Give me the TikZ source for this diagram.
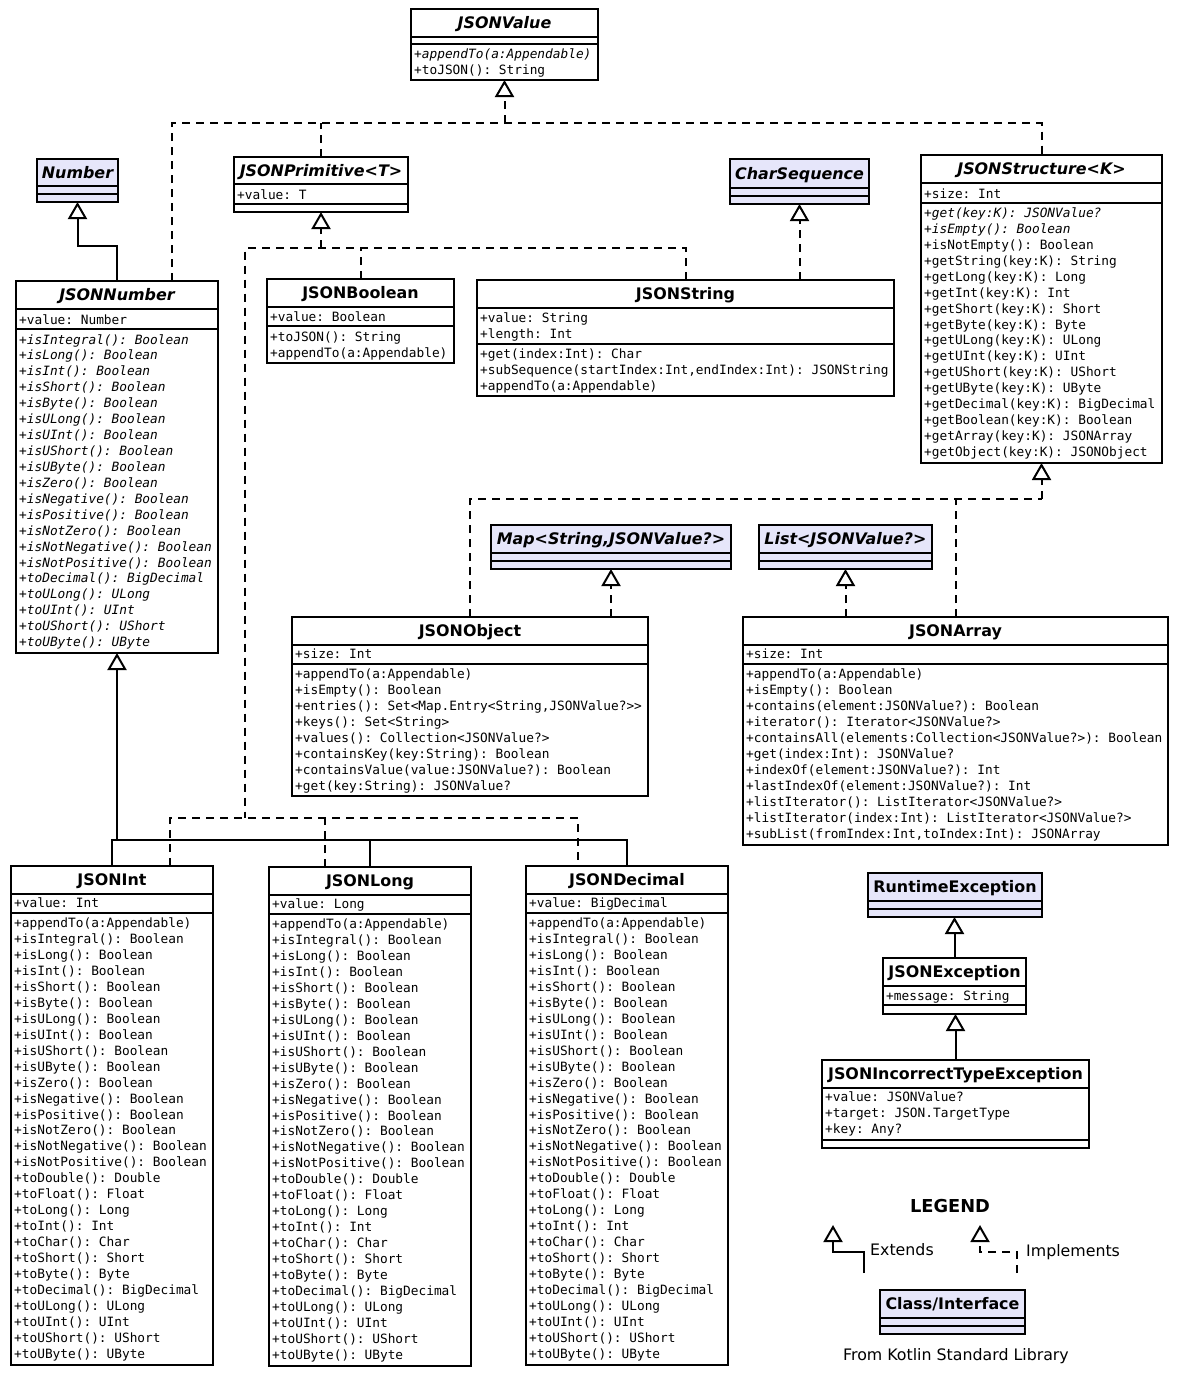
\documentclass[tikz,border=0pt]{standalone}
\usepackage{fontspec}
\setmainfont{DejaVu Sans}
\setmonofont{DejaVu Sans Mono}
\usetikzlibrary{arrows.meta}
\definecolor{libfill}{RGB}{230,230,250}

\newcommand{\clsTitleFont}{\fontsize{15.9}{18}\selectfont\bfseries}
\newcommand{\clsMemberFont}{\fontsize{12.8}{16}\selectfont\ttfamily}
\newcommand{\clsLabelFont}{\fontsize{15.8}{18}\selectfont}
\newcommand{\clsLegendFont}{\fontsize{17.8}{20}\selectfont\bfseries}

% #1 name, #2 style, #3 x1, #4 y1, #5 x2, #6 y2, #7 first separator, #8 second separator, #9 title
\newcommand{\classbox}[9]{%
  \node[#2, minimum width={#5-#3}, minimum height={#6-#4}, anchor=north west] (#1) at (#3,#4) {};
  \draw[sepline] (#3,#7) -- (#5,#7) (#3,#8) -- (#5,#8);
  \node[ttl] (#1-title) at ({(#3+#5)/2}, {(#4+#7)/2+5.8}) {#9};
}
% [#1 extra style], #2 name prefix, #3 x, #4 centre of first line, #5 line step, #6 lines
\newcommand{\memberlist}[6][]{%
  \foreach \txt [count=\k] in {#6} {
    \node[mem, #1] (#2-\k) at (#3, {#4+4.5+(\k-1)*#5}) {\txt};
  }
}

\begin{document}
\begin{tikzpicture}[x=1pt, y=-1pt,
  >={Triangle[open, length=17pt, width=19pt]},
  box/.style={draw, line width=2pt, fill=white, inner sep=0pt, outer sep=0pt},
  libbox/.style={box, fill=libfill},
  sepline/.style={line width=2pt},
  ttl/.style={font=\clsTitleFont, inner sep=0pt, anchor=base},
  mem/.style={font=\clsMemberFont, inner sep=0pt, anchor=base west},
  lbl/.style={font=\clsLabelFont, inner sep=0pt},
  ext/.style={line width=2pt},
  impl/.style={line width=2pt, dash pattern=on 8pt off 6pt}]

\fill[white] (0,0) rectangle (1181,1377);
\useasboundingbox (0,0) rectangle (1181,1377);

% ---------- classes and interfaces ----------
\classbox{jv}{box}{411}{9}{598}{80}{37}{44}{\itshape JSONValue}
\memberlist{jv}{414}{54}{16}{{\itshape +appendTo(a:Appendable)}, +toJSON(): String}

\classbox{num}{libbox}{37}{159}{118}{202}{186}{194}{\itshape Number}

\classbox{jp}{box}{234}{157}{408}{212}{184}{204}{\itshape JSONPrimitive<T>}
\memberlist{jpa}{237}{195}{16}{+value: T}

\classbox{cs}{libbox}{730}{159}{869}{204}{188}{196}{\itshape CharSequence}

\classbox{js}{box}{921}{155}{1162}{463}{183}{203}{\itshape JSONStructure<K>}
\memberlist{jsa}{924}{194}{16}{+size: Int}
\memberlist{jsm}{924}{213}{15.93}{{\itshape +get(key:K): JSONValue?}, {\itshape +isEmpty(): Boolean},
  +isNotEmpty(): Boolean, +getString(key:K): String, +getLong(key:K): Long, +getInt(key:K): Int,
  +getShort(key:K): Short, +getByte(key:K): Byte, +getULong(key:K): ULong, +getUInt(key:K): UInt,
  +getUShort(key:K): UShort, +getUByte(key:K): UByte, +getDecimal(key:K): BigDecimal,
  +getBoolean(key:K): Boolean, +getArray(key:K): JSONArray, +getObject(key:K): JSONObject}

\classbox{jn}{box}{16}{281}{218}{653}{309}{329}{\itshape JSONNumber}
\memberlist{jna}{19}{320}{16}{+value: Number}
\memberlist[font=\clsMemberFont\itshape]{jnm}{19}{339.5}{15.93}{+isIntegral(): Boolean, +isLong(): Boolean,
  +isInt(): Boolean, +isShort(): Boolean, +isByte(): Boolean, +isULong(): Boolean, +isUInt(): Boolean,
  +isUShort(): Boolean, +isUByte(): Boolean, +isZero(): Boolean, +isNegative(): Boolean,
  +isPositive(): Boolean, +isNotZero(): Boolean, +isNotNegative(): Boolean, +isNotPositive(): Boolean,
  +toDecimal(): BigDecimal, +toULong(): ULong, +toUInt(): UInt, +toUShort(): UShort, +toUByte(): UByte}

\classbox{jb}{box}{267}{279}{454}{363}{307}{326}{JSONBoolean}
\memberlist{jba}{270}{317}{16}{+value: Boolean}
\memberlist{jbm}{270}{337}{16}{+toJSON(): String, +appendTo(a:Appendable)}

\classbox{jstr}{box}{477}{280}{894}{396}{308}{344}{JSONString}
\memberlist{jstra}{480}{318}{16}{+value: String, +length: Int}
\memberlist{jstrm}{480}{354}{16}{+get(index:Int): Char, {+subSequence(startIndex:Int,endIndex:Int): JSONString},
  +appendTo(a:Appendable)}

\classbox{map}{libbox}{491}{525}{731}{569}{553}{561}{\itshape Map<String,JSONValue?>}
\classbox{list}{libbox}{759}{525}{932}{569}{553}{561}{\itshape List<JSONValue?>}

\classbox{jo}{box}{292}{617}{648}{796}{645}{664}{JSONObject}
\memberlist{joa}{295}{654}{16}{+size: Int}
\memberlist{jom}{295}{674}{16}{+appendTo(a:Appendable), +isEmpty(): Boolean,
  {+entries(): Set<Map.Entry<String,JSONValue?>>}, +keys(): Set<String>, +values(): Collection<JSONValue?>,
  +containsKey(key:String): Boolean, +containsValue(value:JSONValue?): Boolean, +get(key:String): JSONValue?}

\classbox{ja}{box}{743}{617}{1168}{845}{645}{664}{JSONArray}
\memberlist{jaa}{746}{654}{16}{+size: Int}
\memberlist{jam}{746}{674}{16}{+appendTo(a:Appendable), +isEmpty(): Boolean,
  +contains(element:JSONValue?): Boolean, +iterator(): Iterator<JSONValue?>,
  +containsAll(elements:Collection<JSONValue?>): Boolean, +get(index:Int): JSONValue?,
  +indexOf(element:JSONValue?): Int, +lastIndexOf(element:JSONValue?): Int,
  +listIterator(): ListIterator<JSONValue?>, +listIterator(index:Int): ListIterator<JSONValue?>,
  {+subList(fromIndex:Int,toIndex:Int): JSONArray}}

\classbox{ji}{box}{11}{866}{213}{1365}{894}{913}{JSONInt}
\memberlist{jia}{14}{903}{16}{+value: Int}
\memberlist{jim}{14}{923}{15.96}{+appendTo(a:Appendable), +isIntegral(): Boolean, +isLong(): Boolean,
  +isInt(): Boolean, +isShort(): Boolean, +isByte(): Boolean, +isULong(): Boolean, +isUInt(): Boolean,
  +isUShort(): Boolean, +isUByte(): Boolean, +isZero(): Boolean, +isNegative(): Boolean,
  +isPositive(): Boolean, +isNotZero(): Boolean, +isNotNegative(): Boolean, +isNotPositive(): Boolean,
  +toDouble(): Double, +toFloat(): Float, +toLong(): Long, +toInt(): Int, +toChar(): Char,
  +toShort(): Short, +toByte(): Byte, +toDecimal(): BigDecimal, +toULong(): ULong, +toUInt(): UInt,
  +toUShort(): UShort, +toUByte(): UByte}

\classbox{jl}{box}{269}{867}{471}{1366}{895}{914}{JSONLong}
\memberlist{jla}{272}{904}{16}{+value: Long}
\memberlist{jlm}{272}{924}{15.96}{+appendTo(a:Appendable), +isIntegral(): Boolean, +isLong(): Boolean,
  +isInt(): Boolean, +isShort(): Boolean, +isByte(): Boolean, +isULong(): Boolean, +isUInt(): Boolean,
  +isUShort(): Boolean, +isUByte(): Boolean, +isZero(): Boolean, +isNegative(): Boolean,
  +isPositive(): Boolean, +isNotZero(): Boolean, +isNotNegative(): Boolean, +isNotPositive(): Boolean,
  +toDouble(): Double, +toFloat(): Float, +toLong(): Long, +toInt(): Int, +toChar(): Char,
  +toShort(): Short, +toByte(): Byte, +toDecimal(): BigDecimal, +toULong(): ULong, +toUInt(): UInt,
  +toUShort(): UShort, +toUByte(): UByte}

\classbox{jd}{box}{526}{866}{728}{1365}{894}{913}{JSONDecimal}
\memberlist{jda}{529}{903}{16}{+value: BigDecimal}
\memberlist{jdm}{529}{923}{15.96}{+appendTo(a:Appendable), +isIntegral(): Boolean, +isLong(): Boolean,
  +isInt(): Boolean, +isShort(): Boolean, +isByte(): Boolean, +isULong(): Boolean, +isUInt(): Boolean,
  +isUShort(): Boolean, +isUByte(): Boolean, +isZero(): Boolean, +isNegative(): Boolean,
  +isPositive(): Boolean, +isNotZero(): Boolean, +isNotNegative(): Boolean, +isNotPositive(): Boolean,
  +toDouble(): Double, +toFloat(): Float, +toLong(): Long, +toInt(): Int, +toChar(): Char,
  +toShort(): Short, +toByte(): Byte, +toDecimal(): BigDecimal, +toULong(): ULong, +toUInt(): UInt,
  +toUShort(): UShort, +toUByte(): UByte}

\classbox{rte}{libbox}{868}{873}{1042}{917}{901}{909}{RuntimeException}

\classbox{je}{box}{883}{958}{1026}{1014}{986}{1005}{JSONException}
\memberlist{jea}{886}{996}{16}{+message: String}

\classbox{jite}{box}{822}{1060}{1089}{1148}{1088}{1140}{JSONIncorrectTypeException}
\memberlist{jitea}{825}{1097}{16}{+value: JSONValue?, +target: JSON.TargetType, +key: Any?}

% ---------- JSONValue implementations ----------
\coordinate (vbus) at (504.5,123);
\coordinate (vbusL) at (172,123);
\draw[impl,->] (vbus) -- (jv.south);
\draw[impl] (jn.north -| vbusL) |- (js.north |- vbus) -- (js.north);
\draw[impl] (jp.north) -- (jp.north |- vbus);

% ---------- Number -> JSONNumber ----------
\draw[ext,->] (jn.north) -- ++(0,-35) -| (num.south);

% ---------- JSONPrimitive implementations ----------
\coordinate (pbus) at (321,248);
\coordinate (pbusL) at (245,248);
\coordinate (pbusB) at (245,818);
\coordinate (qbusL) at (170,818);
\coordinate (qbusM) at (325,818);
\coordinate (qbusR) at (578,818);
\draw[impl,->] (pbus) -- (jp.south);
\draw[impl] (jstr.north) |- (pbusL) -- (pbusB);
\draw[impl] (jb.north) -- (jb.north |- pbus);
\draw[impl] (ji.north -| qbusL) -- (qbusL) -- (qbusR) -- (jd.north -| qbusR);
\draw[impl] (jl.north -| qbusM) -- (qbusM);

% ---------- CharSequence -> JSONString ----------
\draw[impl,->] (jstr.north -| cs.south) -- (cs.south);

% ---------- JSONNumber subclasses ----------
\coordinate (nbus) at (117,840);
\draw[ext,->] (nbus) -- (jn.south);
\draw[ext] (ji.north) |- (jd.north |- nbus) -- (jd.north);
\draw[ext] (jl.north) -- (jl.north |- nbus);

% ---------- JSONStructure implementations ----------
\coordinate (sbus) at (1041.5,499);
\draw[impl,->] (sbus) -- (js.south);
\draw[impl] (jo.north) |- (sbus);
\draw[impl] (ja.north) -- (ja.north |- sbus);
\draw[impl,->] (jo.north -| map.south) -- (map.south);
\draw[impl,->] (ja.north -| list.south) -- (list.south);

% ---------- exceptions ----------
\draw[ext,->] (je.north) -- (je.north |- rte.south);
\draw[ext,->] (jite.north) -- (jite.north |- je.south);

% ---------- legend ----------
\node[ttl, font=\clsLegendFont] (legend) at (950,1212.5) {LEGEND};
\coordinate (extFoot) at (864,1273);
\coordinate (extHead) at (833,1225);
\draw[ext,->] (extFoot) -- ++(0,-21) -| (extHead);
\node[lbl, anchor=base west] (extLabel) at (870,1255) {Extends};
\coordinate (implFoot) at (1017,1273);
\coordinate (implHead) at (980,1225);
\draw[impl,->] (implFoot) -- ++(0,-21) -| (implHead);
\node[lbl, anchor=base west] (implLabel) at (1026,1256) {Implements};
\classbox{lib}{libbox}{880}{1290}{1025}{1334}{1318}{1326}{Class/Interface}
\node[lbl, anchor=base] (libNote) at (956,1360) {From Kotlin Standard Library};

\end{tikzpicture}
\end{document}
